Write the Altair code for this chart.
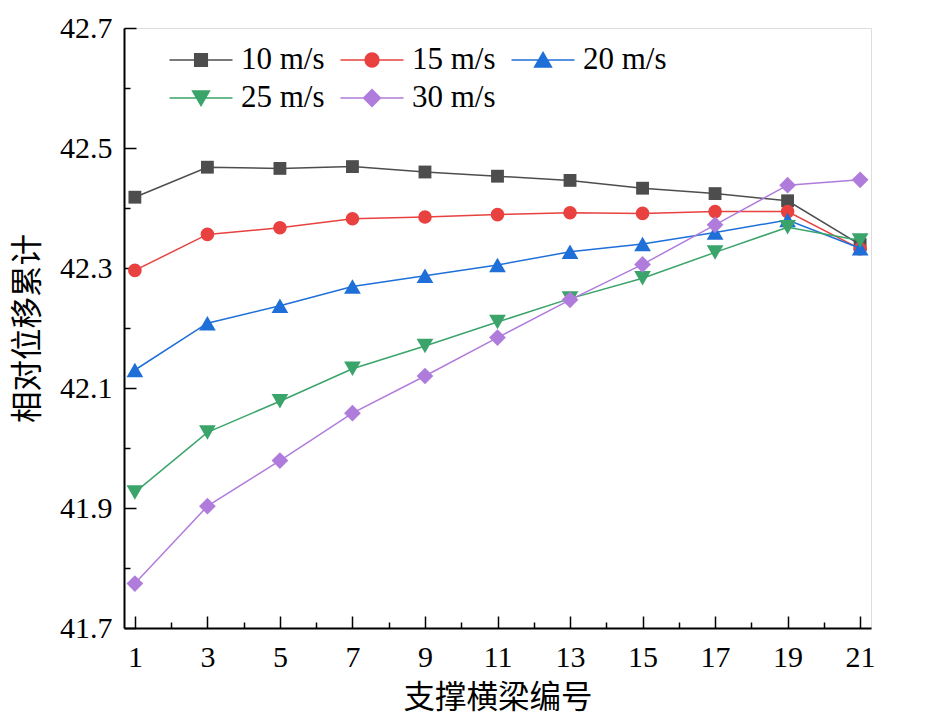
import altair as alt
import pandas as pd

beams = [1, 3, 5, 7, 9, 11, 13, 15, 17, 19, 21]
series_labels = ["10 m/s", "15 m/s", "20 m/s", "25 m/s", "30 m/s"]
s10 = [42.418, 42.468, 42.466, 42.469, 42.460, 42.453, 42.446, 42.433, 42.424, 42.412, 42.339]
s15 = [42.296, 42.356, 42.367, 42.382, 42.385, 42.389, 42.392, 42.391, 42.394, 42.394, 42.332]
s20 = [42.130, 42.208, 42.237, 42.269, 42.287, 42.305, 42.327, 42.340, 42.359, 42.380, 42.333]
s25 = [41.926, 42.026, 42.078, 42.132, 42.170, 42.210, 42.249, 42.283, 42.326, 42.368, 42.346]
s30 = [41.774, 41.903, 41.979, 42.058, 42.120, 42.184, 42.247, 42.306, 42.372, 42.438, 42.447]
y_major = [41.7, 41.9, 42.1, 42.3, 42.5, 42.7]
y_all_ticks = [41.7, 41.8, 41.9, 42.0, 42.1, 42.2, 42.3, 42.4, 42.5, 42.6, 42.7]
x_all_ticks = list(range(1, 22))

colors = ["#4d4d4d", "#e8413f", "#1f6fd8", "#3aa46a", "#b07cdc"]
shapes = ["square", "circle", "triangle-up", "triangle-down", "diamond"]
sizes = [165, 185, 280, 280, 280]
legend_shapes = [
    "M-2.1,0H2.1M-0.42,-0.42H0.42V0.42H-0.42Z",
    "M-2.1,0H2.1M-0.46,0A0.46,0.46,0,1,1,0.46,0A0.46,0.46,0,1,1,-0.46,0Z",
    "M-2.1,0H2.1M0,-0.5L0.56,0.46L-0.56,0.46Z",
    "M-2.1,0H2.1M0,0.5L0.56,-0.46L-0.56,-0.46Z",
    "M-2.1,0H2.1M0,-0.56L0.56,0L0,0.56L-0.56,0Z",
]

rows = []
for lab, vals in zip(series_labels, [s10, s15, s20, s25, s30]):
    for b, v in zip(beams, vals):
        rows.append({"beam": b, "value": v, "series": lab})
df = pd.DataFrame(rows)

LATIN = "Liberation Serif"
CJK = "Noto Sans CJK SC"

xscale = alt.Scale(domain=[0.7, 21.3], nice=False, zero=False)
yscale = alt.Scale(domain=[41.7, 42.7], nice=False, zero=False)

x_axis = alt.Axis(values=beams, title="支撑横梁编号", ticks=False, tickSize=0, grid=False,
                  labelFont=LATIN, labelFontSize=30, labelColor="black", labelPadding=14,
                  labelFlush=False, labelOverlap=False,
                  titleFont=CJK, titleFontSize=31.5, titleFontWeight="normal", titleColor="black",
                  titlePadding=10, domainColor="black", domainWidth=2)
y_axis = alt.Axis(values=y_major, format=".1f", title="相对位移累计", ticks=False, tickSize=0, grid=False,
                  labelFont=LATIN, labelFontSize=30, labelColor="black", labelPadding=12,
                  labelFlush=False, labelOverlap=False,
                  titleFont=CJK, titleFontSize=31.5, titleFontWeight="normal", titleColor="black",
                  titlePadding=15, domainColor="black", domainWidth=2)

base = alt.Chart(df)
X = alt.X("beam:Q", scale=xscale, axis=x_axis)
Y = alt.Y("value:Q", scale=yscale, axis=y_axis)

series_layers = []
for lab, col, shp, sz in zip(series_labels, colors, shapes, sizes):
    sub = base.transform_filter(alt.datum.series == lab)
    series_layers.append(sub.mark_line(strokeWidth=1.5, color=col).encode(x=X, y=Y))
    series_layers.append(sub.mark_point(filled=True, opacity=1, color=col, shape=shp, size=sz).encode(x=X, y=Y))

leg = alt.Legend(orient="none", legendX=61, legendY=16, columns=3, direction="horizontal", title=None,
                 symbolSize=900, symbolStrokeWidth=1.5, symbolOpacity=1,
                 labelOffset=24, columnPadding=12, rowPadding=7, padding=0,
                 labelFont=LATIN, labelFontSize=31, labelColor="black", labelLimit=300)
legend_layer = base.mark_point(filled=True, strokeWidth=1.5, opacity=1).encode(
    fill=alt.Fill("series:N", scale=alt.Scale(domain=series_labels, range=colors), legend=leg),
    stroke=alt.Stroke("series:N", scale=alt.Scale(domain=series_labels, range=colors), legend=leg),
    shape=alt.Shape("series:N", scale=alt.Scale(domain=series_labels, range=legend_shapes), legend=leg),
).transform_filter("false")

main = alt.layer(*series_layers, legend_layer)

tick_layer = base.mark_point(opacity=0).encode(
    x=alt.X("beam:Q", scale=xscale, axis=alt.Axis(
        orient="top", offset=-600, values=x_all_ticks, labels=False, domain=False, grid=False,
        title=None, tickColor="black", tickWidth=1.5,
        tickSize={"condition": {"test": "datum.value % 2 == 1", "value": 12}, "value": 6})),
    y=alt.Y("value:Q", scale=yscale, axis=alt.Axis(
        orient="right", offset=-747, values=y_all_ticks, labels=False, domain=False, grid=False,
        title=None, tickColor="black", tickWidth=1.5,
        tickSize={"condition": {"test": "round(datum.value * 10) % 2 == 1", "value": 12}, "value": 6})),
)

chart = alt.layer(main, tick_layer).resolve_axis(x="independent", y="independent").properties(
    width=747, height=600,
    autosize=alt.AutoSizeParams(type="none"),
    padding={"left": 116, "top": 20, "right": 50, "bottom": 95},
).configure_view(stroke=None).configure(background="white")

chart.save("out.html", embed_options={"renderer": "svg", "actions": False})
